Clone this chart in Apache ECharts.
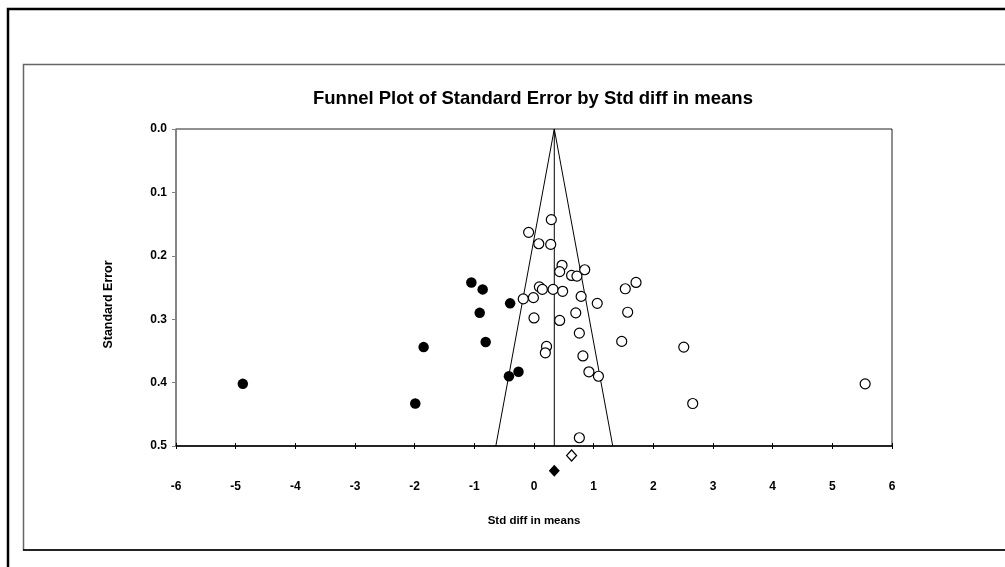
<!DOCTYPE html>
<html>
<head>
<meta charset="utf-8">
<script src="https://cdn.jsdelivr.net/npm/echarts@6/dist/echarts.min.js"></script>
<style>
html,body{margin:0;padding:0;background:#fff;}
#chart{width:1005px;height:567px;}
</style>
</head>
<body>
<div id="chart"></div>
<script>
// Observed studies (open circles): std diff in means, standard error
var observedX = [0.29, -0.09, 0.08, 0.28, 0.47, 0.43, 0.85, 0.63, 0.72, 1.71,
                 1.53, 0.09, 0.14, 0.32, 0.48, -0.18, -0.01, 0.79, 1.06, 1.57,
                 0.70, 0.00, 0.43, 0.76, 1.47, 0.21, 0.19, 2.51, 0.82, 0.92,
                 1.08, 2.66, 0.76, 5.55];
var observedY = [0.143, 0.163, 0.181, 0.182, 0.215, 0.225, 0.222, 0.231, 0.232, 0.242,
                 0.252, 0.249, 0.253, 0.253, 0.256, 0.268, 0.266, 0.264, 0.275, 0.289,
                 0.290, 0.298, 0.302, 0.322, 0.335, 0.343, 0.353, 0.344, 0.358, 0.383,
                 0.390, 0.433, 0.487, 0.402];
// Imputed studies (filled circles)
var imputedX = [-1.05, -0.86, -0.40, -0.91, -0.81, -0.42, -0.26, -4.88, -1.85, -1.99];
var imputedY = [0.242, 0.253, 0.275, 0.290, 0.336, 0.390, 0.383, 0.402, 0.344, 0.433];
// Combined estimates (diamonds)
var observedCombined = [0.63, 0.515];
var adjustedCombined = [0.34, 0.539];
// Funnel (apex and 95% limits at SE = 0.5)
var funnelApex = [0.34, 0.0];
var funnelLeftBase = [-0.64, 0.5];
var funnelRightBase = [1.32, 0.5];
var funnelCenterBase = [0.34, 0.5];
// Tick settings
var xTickMin = -6, xTickMax = 6, xTickStep = 1;
var yTickMin = 0, yTickMax = 0.5, yTickStep = 0.1;

function zip(xs, ys){ return xs.map(function(x,i){ return [x, ys[i]]; }); }

var FONT = 'Liberation Sans, Arial, sans-serif';
var chart = echarts.init(document.getElementById('chart'), null, {renderer:'canvas'});
chart.setOption({
  backgroundColor: '#ffffff',
  animation: false,
  title: {
    text: 'Funnel Plot of Standard Error by Std diff in means',
    left: 313, top: 89,
    padding: 0,
    textStyle: {fontFamily: FONT, fontSize: 18.5, fontWeight: 'bold', color: '#000'}
  },
  graphic: [
    {type:'rect', shape:{x:8, y:9, width:1010, height:580}, style:{fill:'none', stroke:'#000', lineWidth:2.5}, silent:true, z:-10},
    {type:'rect', shape:{x:23.5, y:64.5, width:1000, height:485.5}, style:{fill:'none', stroke:'#666', lineWidth:1.5}, silent:true, z:-9},
    {type:'line', shape:{x1:23, y1:550, x2:1005, y2:550}, style:{stroke:'#000', lineWidth:1.5}, silent:true, z:-8}
  ],
  grid: {left:176, right:113, top:129, bottom:121, show:true, borderColor:'#222', borderWidth:1, backgroundColor:'transparent'},
  xAxis: [{
    type:'value', min:xTickMin, max:xTickMax, interval:xTickStep,
    name:'Std diff in means', nameLocation:'middle', nameGap:69,
    nameTextStyle:{fontFamily:FONT, fontSize:11.5, fontWeight:'bold', color:'#000'},
    axisLine:{show:true, onZero:false, lineStyle:{color:'#000', width:1.5}},
    axisTick:{show:true, inside:false, length:3, lineStyle:{color:'#000'}},
    axisLabel:{margin:35, fontFamily:FONT, fontSize:12, fontWeight:'bold', color:'#000'},
    splitLine:{show:false}
  },{
    type:'value', min:xTickMin, max:xTickMax, interval:xTickStep, position:'bottom',
    axisLine:{show:false, onZero:false}, axisLabel:{show:false},
    axisTick:{show:true, inside:true, length:3, lineStyle:{color:'#000'}},
    splitLine:{show:false}
  }],
  yAxis: {
    type:'value', inverse:true, min:yTickMin, max:yTickMax, interval:yTickStep,
    name:'Standard Error', nameLocation:'middle', nameGap:61, nameRotate:90,
    nameTextStyle:{fontFamily:FONT, fontSize:12.5, fontWeight:'bold', color:'#000', padding:[0,34,0,0]},
    axisLine:{show:true, onZero:false, lineStyle:{color:'#808080', width:1.5}},
    axisTick:{show:true, inside:false, length:4, lineStyle:{color:'#808080'}},
    axisLabel:{margin:9, fontFamily:FONT, fontSize:12, fontWeight:'bold', color:'#000',
      formatter:function(v){ return v.toFixed(1); }},
    splitLine:{show:false}
  },
  series: [
    {type:'line', name:'Funnel left', data:[funnelApex, funnelLeftBase], symbol:'none',
     lineStyle:{color:'#000', width:1}, silent:true, z:1},
    {type:'line', name:'Funnel right', data:[funnelApex, funnelRightBase], symbol:'none',
     lineStyle:{color:'#000', width:1}, silent:true, z:1},
    {type:'line', name:'Combined effect', data:[funnelApex, funnelCenterBase], symbol:'none',
     lineStyle:{color:'#000', width:1}, silent:true, z:1},
    {type:'scatter', name:'Observed studies', data:zip(observedX, observedY), symbol:'circle', symbolSize:10,
     itemStyle:{color:'#fff', borderColor:'#000', borderWidth:1.2, opacity:1}, z:3},
    {type:'scatter', name:'Imputed studies', data:zip(imputedX, imputedY), symbol:'circle', symbolSize:10.5,
     itemStyle:{color:'#000', borderColor:'#000', borderWidth:0, opacity:1}, z:3},
    {type:'scatter', name:'Observed combined', data:[observedCombined], symbol:'diamond', symbolSize:[10,11], clip:false,
     itemStyle:{color:'#fff', borderColor:'#000', borderWidth:1.2, opacity:1}, z:3},
    {type:'scatter', name:'Adjusted combined', data:[adjustedCombined], symbol:'diamond', symbolSize:[11,12], clip:false,
     itemStyle:{color:'#000', borderColor:'#000', borderWidth:0, opacity:1}, z:3}
  ]
});
</script>
</body>
</html>
